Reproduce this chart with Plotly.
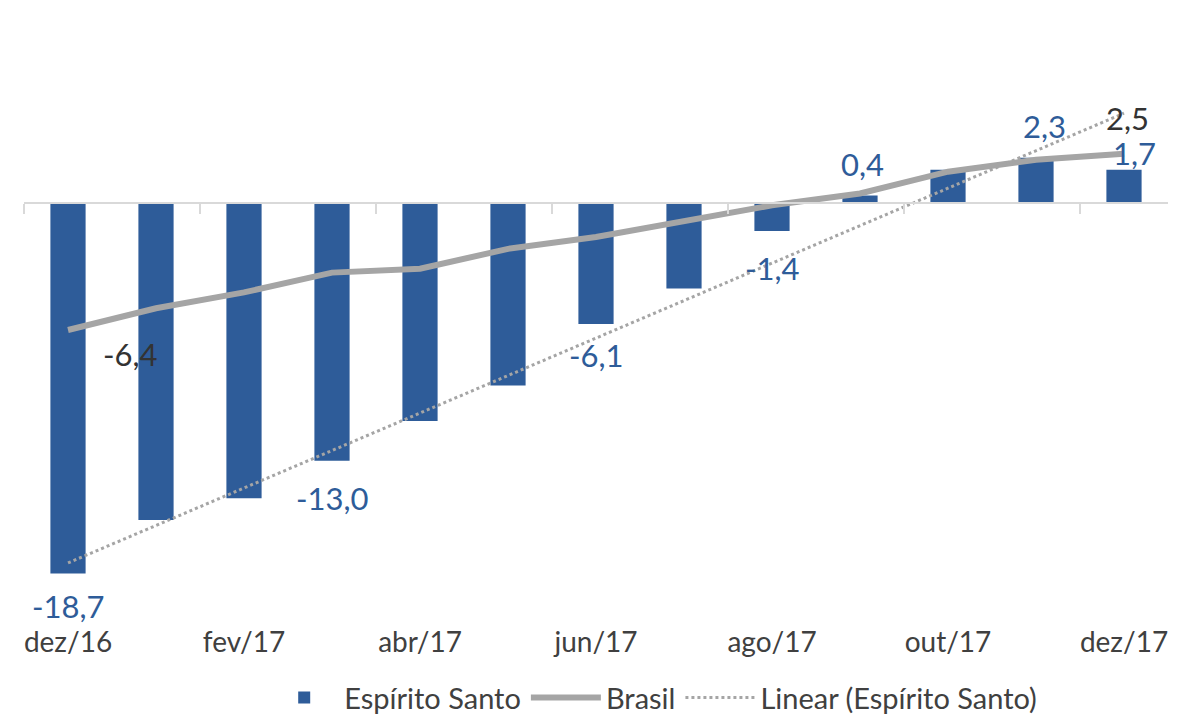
import numpy as np
import plotly.graph_objects as go

months = ["dez/16", "jan/17", "fev/17", "mar/17", "abr/17", "mai/17", "jun/17",
          "jul/17", "ago/17", "set/17", "out/17", "nov/17", "dez/17"]
espirito_santo = [-18.7, -16.0, -14.9, -13.0, -11.0, -9.2, -6.1, -4.3, -1.4, 0.4, 1.7, 2.3, 1.7]
brasil = [-6.4, -5.3, -4.5, -3.5, -3.3, -2.3, -1.7, -0.9, -0.1, 0.5, 1.6, 2.2, 2.5]

# which points carry a data label (index -> (xshift, yshift))
es_label_offsets = {0: (0, -33), 3: (0, -37), 6: (0, -31), 8: (0, -37),
                    9: (2, 31), 11: (8, 32), 12: (10, 17)}
br_label_offsets = {0: (62, -24), 12: (3, 36)}

BLUE = "#2E5C99"
GRAY = "#A5A5A5"
TXT = "#404040"
FONT = "Lato"

idx = np.arange(len(months))
coef = np.polyfit(idx, espirito_santo, 1)
trend = np.polyval(coef, idx)

YMIN, YMAX = -21, 8

fig = go.Figure()
fig.add_trace(go.Bar(x=idx, y=espirito_santo, name="Espírito Santo",
                     marker=dict(color=BLUE, line=dict(width=0)), width=0.4))
fig.add_trace(go.Scatter(x=idx, y=brasil, name="Brasil", mode="lines",
                         line=dict(color=GRAY, width=6)))
fig.add_trace(go.Scatter(x=idx, y=trend, name="Linear (Espírito Santo)", mode="lines",
                         line=dict(color=GRAY, width=3, dash="dot"), xaxis="x2"))

ann = []
for i, (xs, ys) in es_label_offsets.items():
    v = espirito_santo[i]
    ann.append(dict(x=i, y=v, text=f"{v:.1f}".replace(".", ","), showarrow=False,
                    xshift=xs, yshift=ys, font=dict(family=FONT, size=31, color=BLUE)))
for i, (xs, ys) in br_label_offsets.items():
    v = brasil[i]
    ann.append(dict(x=i, y=v, text=f"{v:.1f}".replace(".", ","), showarrow=False,
                    xshift=xs, yshift=ys, font=dict(family=FONT, size=31, color="#333333")))

# the page body adds an 8px margin, so the figure is 8px smaller than the window
fig.update_layout(
    width=1186, height=710,
    margin=dict(l=16, r=26, t=37, b=99, autoexpand=False),
    paper_bgcolor="white", plot_bgcolor="white",
    font=dict(family=FONT, color=TXT),
    showlegend=True,
    legend=dict(orientation="h", x=0.55, xanchor="center", y=-0.137, yanchor="middle",
                font=dict(family=FONT, size=29, color=TXT), traceorder="normal",
                itemwidth=70, borderwidth=0),
    xaxis=dict(range=[-0.5, len(months) - 0.5], tickmode="array",
               tickvals=list(idx[::2]), ticktext=months[::2], showline=False,
               showgrid=False, zeroline=False, ticks="", automargin=False,
               ticklabelstandoff=4,
               tickfont=dict(family=FONT, size=28, color=TXT)),
    xaxis2=dict(overlaying="x", anchor="free", position=(0 - YMIN) / (YMAX - YMIN),
                range=[-0.5, len(months) - 0.5], tickmode="array",
                tickvals=[i - 0.5 for i in idx[::2]], showticklabels=False,
                showline=True, linecolor="#D9D9D9", linewidth=2, automargin=False,
                ticks="outside", ticklen=10, tickwidth=2, tickcolor="#D9D9D9",
                showgrid=False, zeroline=False),
    yaxis=dict(range=[YMIN, YMAX], visible=False, showgrid=False, zeroline=False,
               automargin=False),
    annotations=ann,
    bargap=0.6,
)

fig.write_html("out.html")
